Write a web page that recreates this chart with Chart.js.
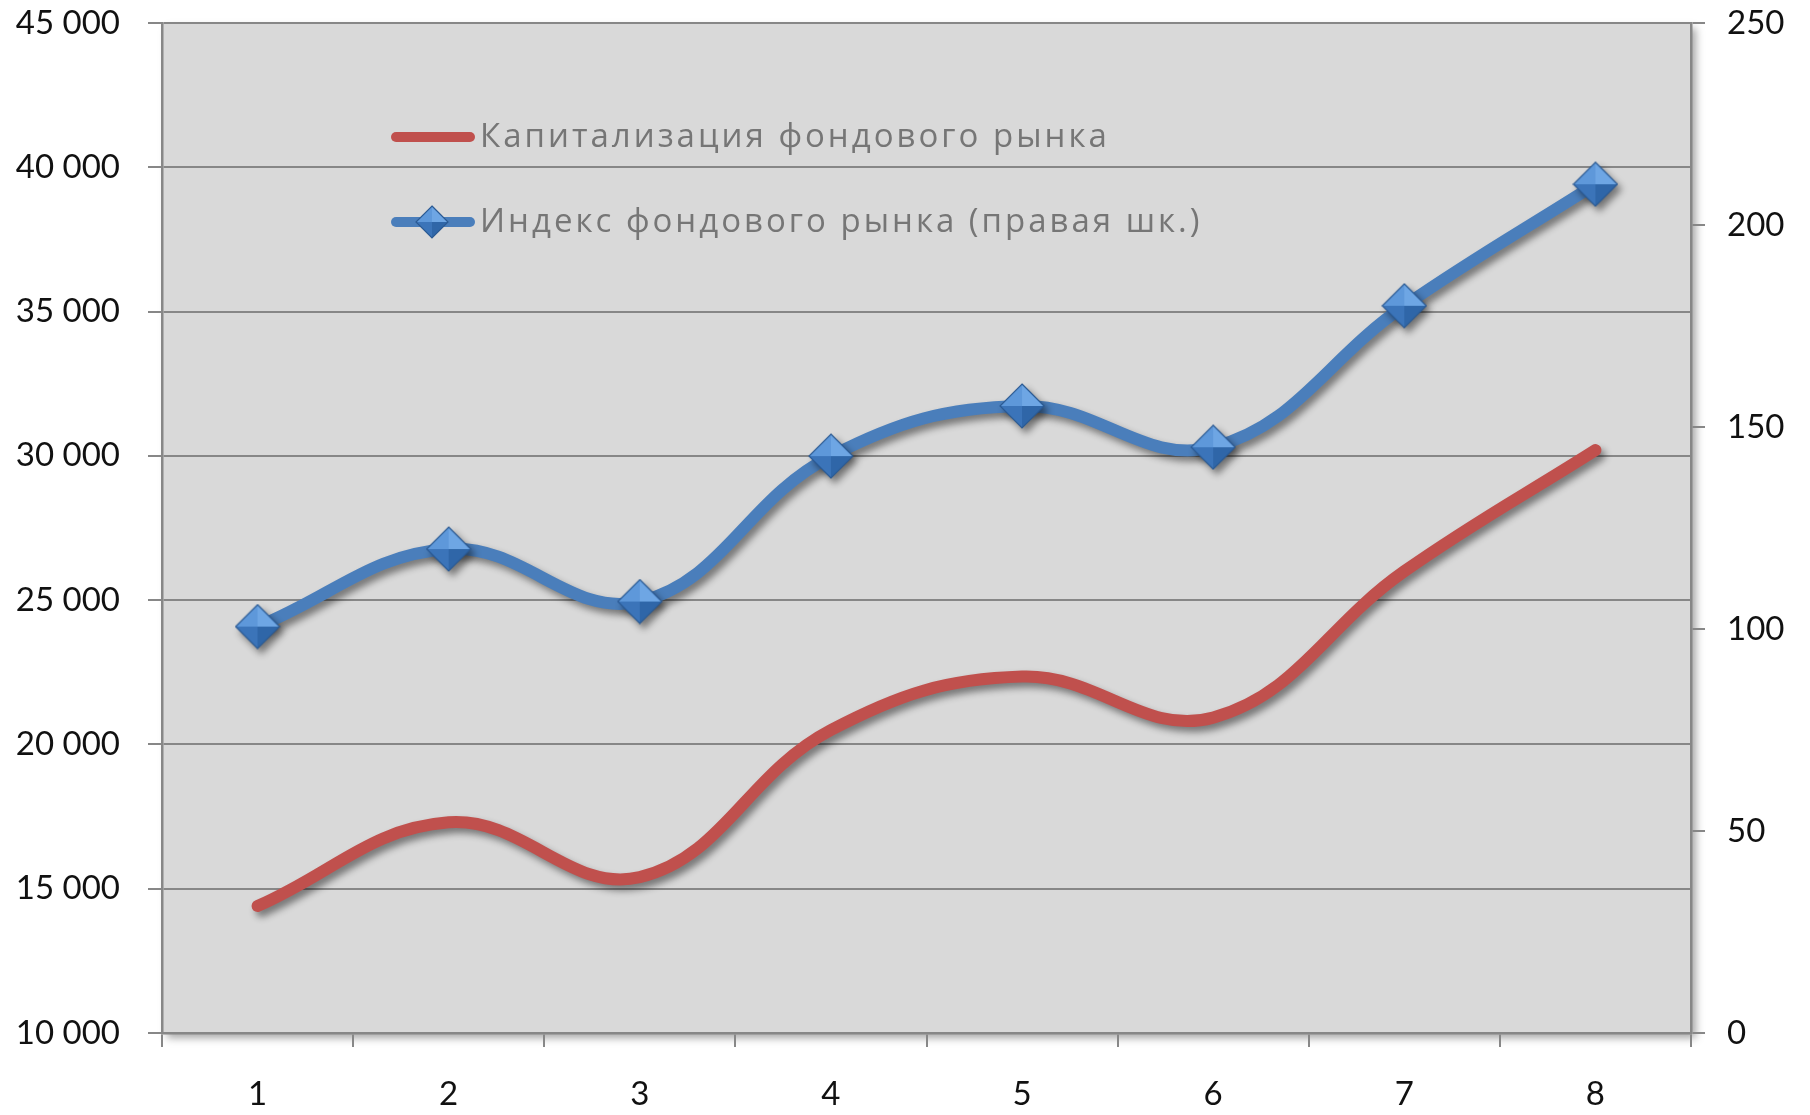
<!DOCTYPE html>
<html lang="ru">
<head>
<meta charset="utf-8">
<title>Капитализация и индекс фондового рынка</title>
<script src="https://cdn.jsdelivr.net/npm/chart.js@4.4.1/dist/chart.umd.min.js"></script>
<style>
    html, body { margin: 0; padding: 0; background: #fff; }
    #wrap { width: 1810px; height: 1115px; }
</style>
</head>
<body>
<div id="wrap"><canvas id="marketChart" width="1810" height="1115"></canvas></div>
<script>
// Данные
const periods = ['1', '2', '3', '4', '5', '6', '7', '8'];
const capitalization = [14400, 17300, 15400, 20500, 22350, 20930, 26000, 30200];
const marketIndex = [100.6, 119.8, 106.8, 142.8, 155.2, 145.0, 180.0, 210.1];
const leftTicks = [10000, 15000, 20000, 25000, 30000, 35000, 40000, 45000];
const rightTicks = [0, 50, 100, 150, 200, 250];
const seriesNames = ['Капитализация фондового рынка', 'Индекс фондового рынка (правая шк.)'];

const RED = '#c0504d';
const BLUE = '#4a7ebb';
const GRID = '#878787';
const FONT = "Lato, 'Open Sans', sans-serif";
const LEGEND_FONT = "'Open Sans', Lato, sans-serif";

let marketChart;

// формат "45 000"
function formatThousands(v) {
    return String(v).replace(/\B(?=(\d{3})+(?!\d))/g, ' ');
}

// ромб-маркер с гранями (как в Excel)
function makeDiamond(r) {
    const size = r * 2 + 2;
    const c = document.createElement('canvas');
    c.width = size;
    c.height = size;
    const ctx = c.getContext('2d');
    const m = size / 2;
    const top = [m, m - r], right = [m + r, m], bottom = [m, m + r], left = [m - r, m];
    const faces = [
        [top, right, '#6ea6e4'],
        [right, bottom, '#2f66a8'],
        [bottom, left, '#3b74b9'],
        [left, top, '#5e98da']
    ];
    faces.forEach(([a, b, color]) => {
        ctx.beginPath();
        ctx.moveTo(m, m);
        ctx.lineTo(a[0], a[1]);
        ctx.lineTo(b[0], b[1]);
        ctx.closePath();
        ctx.fillStyle = color;
        ctx.fill();
    });
    ctx.beginPath();
    ctx.moveTo(top[0], top[1]);
    ctx.lineTo(right[0], right[1]);
    ctx.lineTo(bottom[0], bottom[1]);
    ctx.lineTo(left[0], left[1]);
    ctx.closePath();
    ctx.strokeStyle = '#2b5a93';
    ctx.lineWidth = 1.2;
    ctx.stroke();
    return c;
}

// серый фон области построения с тенью
const plotBackground = {
    id: 'plotBackground',
    beforeDraw(chart) {
        const { ctx, chartArea: a } = chart;
        ctx.save();
        ctx.shadowColor = 'rgba(0, 0, 0, 0.35)';
        ctx.shadowBlur = 8;
        ctx.shadowOffsetX = 5;
        ctx.shadowOffsetY = 5;
        ctx.fillStyle = '#d9d9d9';
        ctx.fillRect(a.left, a.top, a.right - a.left, a.bottom - a.top);
        ctx.restore();
    }
};

// тень под линиями
const lineShadow = {
    id: 'lineShadow',
    beforeDatasetsDraw(chart) {
        const ctx = chart.ctx;
        ctx.save();
        ctx.shadowColor = 'rgba(0, 0, 0, 0.45)';
        ctx.shadowBlur = 7;
        ctx.shadowOffsetX = 4;
        ctx.shadowOffsetY = 5;
    },
    afterDatasetsDraw(chart) {
        chart.ctx.restore();
    }
};

// легенда внутри области построения
const innerLegend = {
    id: 'innerLegend',
    afterDraw(chart) {
        const { ctx, chartArea: a } = chart;
        const x0 = a.left + 230;
        const rows = [a.top + 114, a.top + 199];
        const smallDiamond = makeDiamond(16);
        chart.data.datasets.forEach((ds, i) => {
            const y = rows[i];
            ctx.save();
            ctx.strokeStyle = ds.borderColor;
            ctx.lineWidth = 10;
            ctx.lineCap = 'round';
            ctx.beginPath();
            ctx.moveTo(x0 + 4, y);
            ctx.lineTo(x0 + 78, y);
            ctx.stroke();
            if (ds.pointStyle instanceof HTMLCanvasElement) {
                ctx.drawImage(smallDiamond, x0 + 40 - smallDiamond.width / 2, y - smallDiamond.height / 2);
            }
            ctx.fillStyle = '#767676';
            ctx.font = '33px ' + LEGEND_FONT;
            ctx.letterSpacing = '3px';
            ctx.textBaseline = 'middle';
            ctx.fillText(ds.label, x0 + 88, y + 1);
            ctx.restore();
        });
    }
};

// Инициализация графика
function initChart() {
    const ctx = document.getElementById('marketChart').getContext('2d');
    const diamond = makeDiamond(22);

    const tickFont = { family: FONT, size: 33 };

    marketChart = new Chart(ctx, {
        type: 'line',
        data: {
            labels: periods,
            datasets: [
                {
                    label: seriesNames[0],
                    data: capitalization,
                    yAxisID: 'yLeft',
                    borderColor: RED,
                    backgroundColor: RED,
                    borderWidth: 12,
                    tension: 0.4,
                    pointRadius: 0,
                    borderCapStyle: 'round',
                    borderJoinStyle: 'round'
                },
                {
                    label: seriesNames[1],
                    data: marketIndex,
                    yAxisID: 'yRight',
                    borderColor: BLUE,
                    backgroundColor: BLUE,
                    borderWidth: 12,
                    tension: 0.4,
                    pointStyle: diamond,
                    pointRadius: 22,
                    borderCapStyle: 'round',
                    borderJoinStyle: 'round'
                }
            ]
        },
        options: {
            responsive: false,
            animation: false,
            events: [],
            layout: {
                autoPadding: false,
                padding: { top: 23, left: 0, right: 0, bottom: 0 }
            },
            plugins: {
                legend: { display: false },
                tooltip: { enabled: false }
            },
            scales: {
                x: {
                    offset: true,
                    grid: {
                        offset: true,
                        drawOnChartArea: false,
                        tickLength: 14,
                        color: GRID,
                        lineWidth: 2
                    },
                    border: { color: GRID, width: 2.5 },
                    ticks: { padding: 28, font: tickFont, color: '#111' },
                    afterFit(scale) {
                        scale.height = 82;
                        scale.paddingLeft = 0;
                        scale.paddingRight = 0;
                    }
                },
                yLeft: {
                    position: 'left',
                    min: leftTicks[0],
                    max: leftTicks[leftTicks.length - 1],
                    afterBuildTicks(scale) {
                        scale.ticks = leftTicks.map(v => ({ value: v }));
                    },
                    grid: { color: GRID, lineWidth: 2, tickLength: 14 },
                    border: { color: GRID, width: 2.5 },
                    ticks: {
                        padding: 28,
                        font: tickFont,
                        color: '#111',
                        callback: v => formatThousands(v)
                    },
                    afterFit(scale) {
                        scale.width = 162;
                        scale.paddingTop = 0;
                        scale.paddingBottom = 0;
                    }
                },
                yRight: {
                    position: 'right',
                    min: rightTicks[0],
                    max: rightTicks[rightTicks.length - 1],
                    afterBuildTicks(scale) {
                        scale.ticks = rightTicks.map(v => ({ value: v }));
                    },
                    grid: { drawOnChartArea: false, color: GRID, lineWidth: 2, tickLength: 14 },
                    border: { color: GRID, width: 2.5 },
                    ticks: { padding: 22, font: tickFont, color: '#111' },
                    afterFit(scale) {
                        scale.width = 119;
                        scale.paddingTop = 0;
                        scale.paddingBottom = 0;
                    }
                }
            }
        },
        plugins: [plotBackground, lineShadow, innerLegend]
    });
}

document.addEventListener('DOMContentLoaded', () => {
    initChart();
});
</script>
</body>
</html>
